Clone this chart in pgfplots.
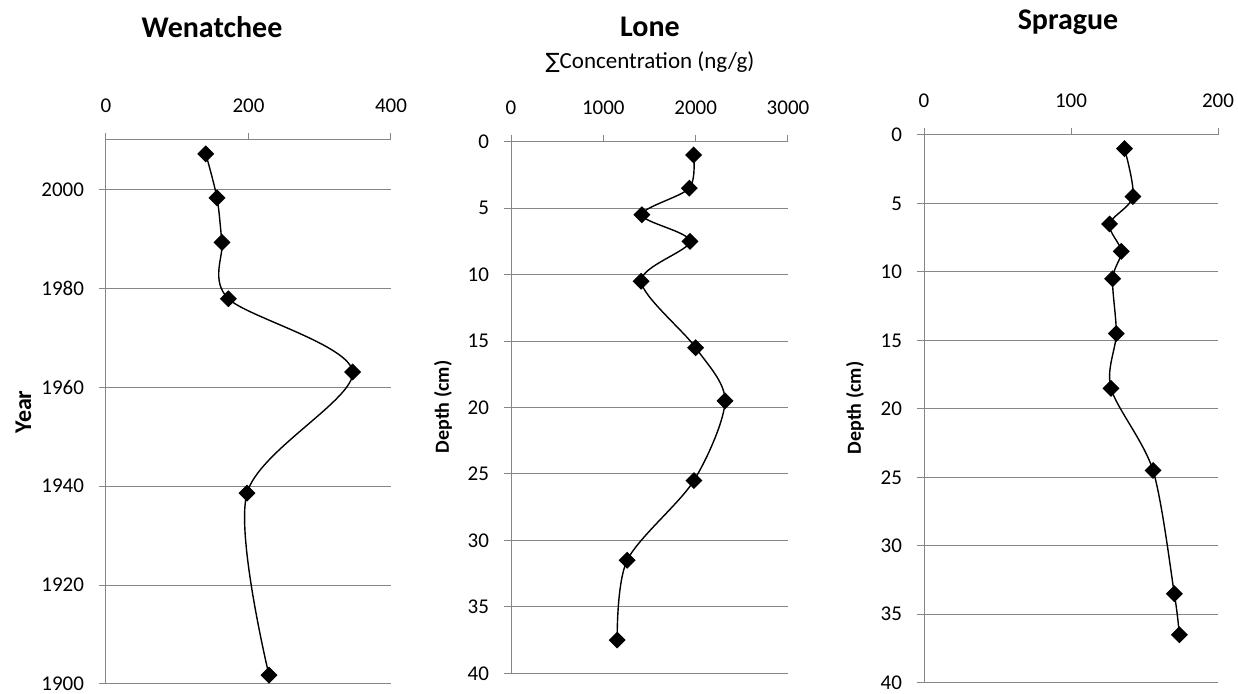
\documentclass[border=0pt]{standalone}
\usepackage{fontspec}
\setmainfont{Carlito}
\newfontfamily\dejavu{DejaVu Sans}
\usepackage{pgfplots}
\usepackage{pgfplotstable}
\pgfplotsset{compat=1.18}
\definecolor{axgray}{RGB}{134,134,134}

\pgfplotstableread{
x year
140.0 2007.2
155.8 1998.3
162.8 1989.3
171.7 1977.9
346.2 1963.1
197.9 1938.6
228.8 1901.8
}\wenatchee

\pgfplotstableread{
x depth
1977 1
1931 3.5
1418 5.5
1938 7.5
1410 10.5
2000 15.5
2318 19.5
1981 25.5
1258 31.5
1150 37.5
}\lone

\pgfplotstableread{
x depth
136.4 1
142.1 4.5
126.2 6.5
134.2 8.5
128.3 10.5
130.8 14.5
127.2 18.5
155.8 24.5
170.3 33.5
173.7 36.5
}\sprague

\pgfplotsset{
  panel/.style={
    scale only axis,
    anchor=north west,
    axis line style={draw=none},
    ymajorgrids,
    grid style={axgray, line width=0.5pt},
    tick style={axgray, line width=0.5pt},
    tick align=outside,
    major tick length=3.5pt,
    xtick pos=upper,
    xticklabel pos=upper,
    ytick pos=left,
    yticklabel pos=left,
    /pgf/number format/assume math mode=true,
    /pgf/number format/1000 sep={},
    ticklabel style={font=\fontsize{10.5}{12}\selectfont, text=black},
    xticklabel style={yshift=6.5pt},
    yticklabel style={xshift=-4pt},
    clip=false,
  },
  prof/.style={black, line width=0.7pt, smooth, tension=0.5,
    mark=square*, mark size=2.65pt, mark options={rotate=45, fill=black, solid}},
}

\begin{document}
\begin{tikzpicture}
\useasboundingbox (0,0) rectangle (619pt,-347pt);

% Wenatchee
\begin{axis}[panel, at={(53pt,-70pt)}, width=142.5pt, height=272pt,
  xmin=0, xmax=400, ymin=1900, ymax=2010,
  xtick={0,200,400}, ytick={1900,1920,...,2000}]
  \addplot[prof] table[x=x, y=year] {\wenatchee};
  \draw[axgray, line width=0.5pt] (axis cs:0,1900) -- (axis cs:0,2010) -- (axis cs:400,2010);
\end{axis}

% Lone
\begin{axis}[panel, at={(255.5pt,-70.85pt)}, width=138.5pt, height=265.8pt,
  xmin=0, xmax=3000, ymin=-40, ymax=0,
  xtick={0,1000,2000,3000}, ytick={-40,-35,...,0},
  yticklabels={40,35,30,25,20,15,10,5,0}]
  \addplot[prof] table[x=x, y expr=-\thisrow{depth}] {\lone};
  \draw[axgray, line width=0.5pt] (axis cs:0,-40) -- (axis cs:0,0) -- (axis cs:3000,0);
\end{axis}

% Sprague
\begin{axis}[panel, at={(462pt,-67.5pt)}, width=147pt, height=273.85pt,
  xmin=0, xmax=200, ymin=-40, ymax=0,
  xtick={0,100,200}, ytick={-40,-35,...,0},
  yticklabels={40,35,30,25,20,15,10,5,0}]
  \addplot[prof] table[x=x, y expr=-\thisrow{depth}] {\sprague};
  \draw[axgray, line width=0.5pt] (axis cs:0,-40) -- (axis cs:0,0) -- (axis cs:200,0);
\end{axis}

% titles and labels
\node[font=\bfseries\fontsize{15}{18}\selectfont] at (106pt,-13.5pt) {Wenatchee};
\node[font=\bfseries\fontsize{15}{18}\selectfont] at (325pt,-13.5pt) {Lone};
\node[font=\bfseries\fontsize{15}{18}\selectfont] at (534pt,-11pt) {Sprague};
\node[font=\fontsize{11.5}{14}\selectfont] at (325pt,-31pt) {{\dejavu\fontsize{10.5}{14}\selectfont ∑}Concentration (ng/g)};
\node[font=\bfseries\fontsize{12}{14}\selectfont, rotate=90] at (11.75pt,-206pt) {Year};
\node[font=\bfseries\fontsize{10}{12}\selectfont, rotate=90] at (221.5pt,-203.5pt) {Depth (cm)};
\node[font=\bfseries\fontsize{10}{12}\selectfont, rotate=90] at (427.5pt,-204pt) {Depth (cm)};
\end{tikzpicture}
\end{document}
